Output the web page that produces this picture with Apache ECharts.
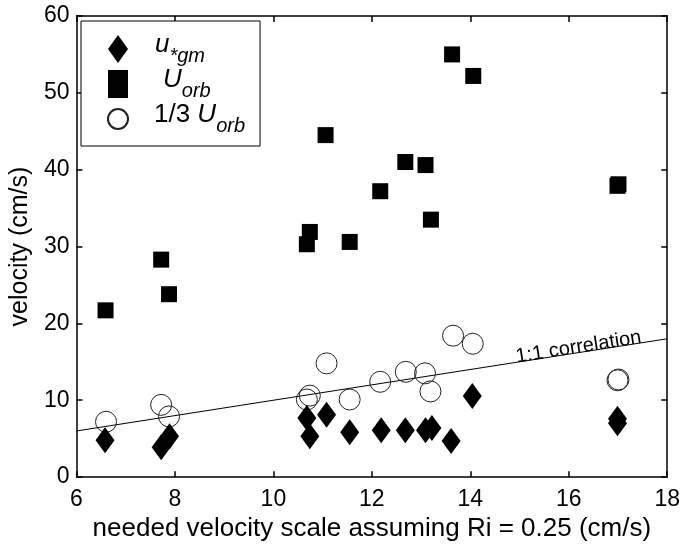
<!DOCTYPE html>
<html>
<head>
<meta charset="utf-8">
<script src="https://cdn.jsdelivr.net/npm/echarts@6/dist/echarts.min.js"></script>
<style>
  html, body { margin: 0; padding: 0; background: #fff; }
  #main { width: 683px; height: 547px; }
</style>
</head>
<body>
<div id="main"></div>
<script>
// needed velocity scale (x) and measured velocities (y), cm/s
var ustarGm = [
    [6.58, 4.8], [7.72, 3.9], [7.89, 5.3], [10.68, 7.7], [10.74, 5.3],
    [11.08, 8.1], [11.55, 5.85], [12.19, 6.1], [12.68, 6.1], [13.09, 6.1],
    [13.22, 6.4], [13.61, 4.7], [14.04, 10.55], [16.99, 7.6], [16.99, 7.0]
];
var uOrb = [
    [6.59, 21.7], [7.72, 28.3], [7.88, 23.8], [10.68, 30.3], [10.74, 31.9],
    [11.06, 44.5], [11.55, 30.6], [12.17, 37.2], [12.68, 41.0], [13.09, 40.6],
    [13.2, 33.5], [13.63, 55.0], [14.06, 52.2], [16.99, 37.9], [17.01, 38.1]
];
var thirdUOrb = [
    [6.6, 7.2], [7.72, 9.4], [7.88, 7.9], [10.68, 10.1], [10.74, 10.6],
    [11.08, 14.8], [11.55, 10.1], [12.17, 12.4], [12.69, 13.7], [13.08, 13.5],
    [13.19, 11.15], [13.65, 18.4], [14.05, 17.35], [16.99, 12.6], [17.01, 12.7]
];
var oneToOne = [[6, 6], [18, 18]];
var xTicks = [6, 8, 10, 12, 14, 16, 18];
var yTicks = [0, 10, 20, 30, 40, 50, 60];

var font = 'Liberation Sans, Arial, Helvetica, sans-serif';
var xMin = 6, xMax = 18, yMin = 0, yMax = 60;
var gridBox = { left: 75, right: 15, top: 16, bottom: 63 };
var plotW = 683 - gridBox.left - gridBox.right;
var plotH = 547 - gridBox.top - gridBox.bottom;
var tickLen = 6;

var myChart = echarts.init(document.getElementById('main'));

// inward ticks on all four sides (matlab box), built from the tick arrays
var dy = tickLen / plotH * (yMax - yMin);
var dx = tickLen / plotW * (xMax - xMin);
var tickSegs = [];
xTicks.forEach(function (v) {
    tickSegs.push([{ coord: [v, yMin] }, { coord: [v, yMin + dy] }]);
    tickSegs.push([{ coord: [v, yMax] }, { coord: [v, yMax - dy] }]);
});
yTicks.forEach(function (v) {
    tickSegs.push([{ coord: [xMin, v] }, { coord: [xMin + dx, v] }]);
    tickSegs.push([{ coord: [xMax, v] }, { coord: [xMax - dx, v] }]);
});

function sideAxis(extra) {
    var base = {
        axisLine: { show: true, onZero: false, lineStyle: { color: '#000', width: 1.5 } },
        axisTick: { show: false },
        splitLine: { show: false }
    };
    return Object.assign(base, extra);
}

var option = {
    backgroundColor: '#fff',
    animation: false,
    grid: gridBox,
    legend: {
        orient: 'vertical',
        left: 81,
        top: 21,
        padding: [11, 15, 10, 26],
        itemGap: 1,
        itemWidth: 20,
        itemHeight: 28,
        backgroundColor: '#fff',
        borderColor: '#000',
        borderWidth: 1,
        z: 10,
        data: ['ugm', 'Uorb', 'third'],
        formatter: function (name) {
            if (name === 'ugm') return '{it|u}{sub|*gm}';
            if (name === 'Uorb') return '{it2|U}{sub|orb}';
            return '{rm|1/3 }{it3|U}{sub|orb}';
        },
        textStyle: {
            color: '#000',
            fontFamily: font,
            rich: {
                it: { fontSize: 26, fontStyle: 'italic', fontFamily: font, color: '#000', lineHeight: 34, verticalAlign: 'top', padding: [0, 0, 0, 22] },
                it2: { fontSize: 26, fontStyle: 'italic', fontFamily: font, color: '#000', lineHeight: 34, verticalAlign: 'top', padding: [0, 0, 0, 30] },
                it3: { fontSize: 26, fontStyle: 'italic', fontFamily: font, color: '#000', lineHeight: 34, verticalAlign: 'top' },
                rm: { fontSize: 26, fontFamily: font, color: '#000', lineHeight: 34, verticalAlign: 'top', padding: [0, 0, 0, 21] },
                sub: { fontSize: 20, fontStyle: 'italic', fontFamily: font, color: '#000', lineHeight: 34, verticalAlign: 'bottom' }
            }
        }
    },
    xAxis: [
        sideAxis({
            type: 'value', min: xMin, max: xMax, interval: 2, position: 'bottom',
            name: 'needed velocity scale assuming Ri = 0.25 (cm/s)',
            nameLocation: 'middle', nameGap: 26,
            nameTextStyle: { fontSize: 26, fontFamily: font, color: '#000' },
            axisLabel: {
                fontSize: 23, fontFamily: font, color: '#000', margin: 11,
                formatter: function (v) { return xTicks.indexOf(v) >= 0 ? v : ''; }
            }
        }),
        sideAxis({ type: 'value', min: xMin, max: xMax, interval: 2, position: 'top', axisLabel: { show: false } })
    ],
    yAxis: [
        sideAxis({
            type: 'value', min: yMin, max: yMax, interval: 10, position: 'left',
            name: 'velocity (cm/s)', nameLocation: 'middle', nameGap: 42,
            nameTextStyle: { fontSize: 25, fontFamily: font, color: '#000' },
            axisLabel: {
                fontSize: 23, fontFamily: font, color: '#000', margin: 7,
                formatter: function (v) { return yTicks.indexOf(v) >= 0 ? v : ''; }
            }
        }),
        sideAxis({ type: 'value', min: yMin, max: yMax, interval: 10, position: 'right', axisLabel: { show: false } })
    ],
    series: [
        {
            name: 'line11', type: 'line', data: oneToOne, symbol: 'none',
            lineStyle: { color: '#000', width: 1 }, z: 1,
            markPoint: {
                symbol: 'circle', symbolSize: 0,
                label: {
                    show: true, formatter: '1:1 correlation', rotate: 9,
                    fontSize: 20, fontFamily: font, color: '#000'
                },
                data: [{ coord: [16.2, 16.9] }]
            },
            markLine: {
                silent: true,
                symbol: ['none', 'none'],
                label: { show: false },
                lineStyle: { color: '#000', width: 1.5, type: 'solid' },
                data: tickSegs
            }
        },
        {
            name: 'third', type: 'scatter', data: thirdUOrb, symbol: 'circle', symbolSize: 21,
            itemStyle: { color: 'rgba(255,255,255,0)', borderColor: '#222', borderWidth: 1, opacity: 1 }, z: 2
        },
        {
            name: 'ugm', type: 'scatter', data: ustarGm, symbol: 'diamond', symbolSize: [19, 26],
            itemStyle: { color: '#000', opacity: 1 }, z: 3
        },
        {
            name: 'Uorb', type: 'scatter', data: uOrb, symbol: 'rect', symbolSize: 16,
            itemStyle: { color: '#000', opacity: 1 }, z: 3
        }
    ]
};

myChart.setOption(option);
</script>
</body>
</html>
